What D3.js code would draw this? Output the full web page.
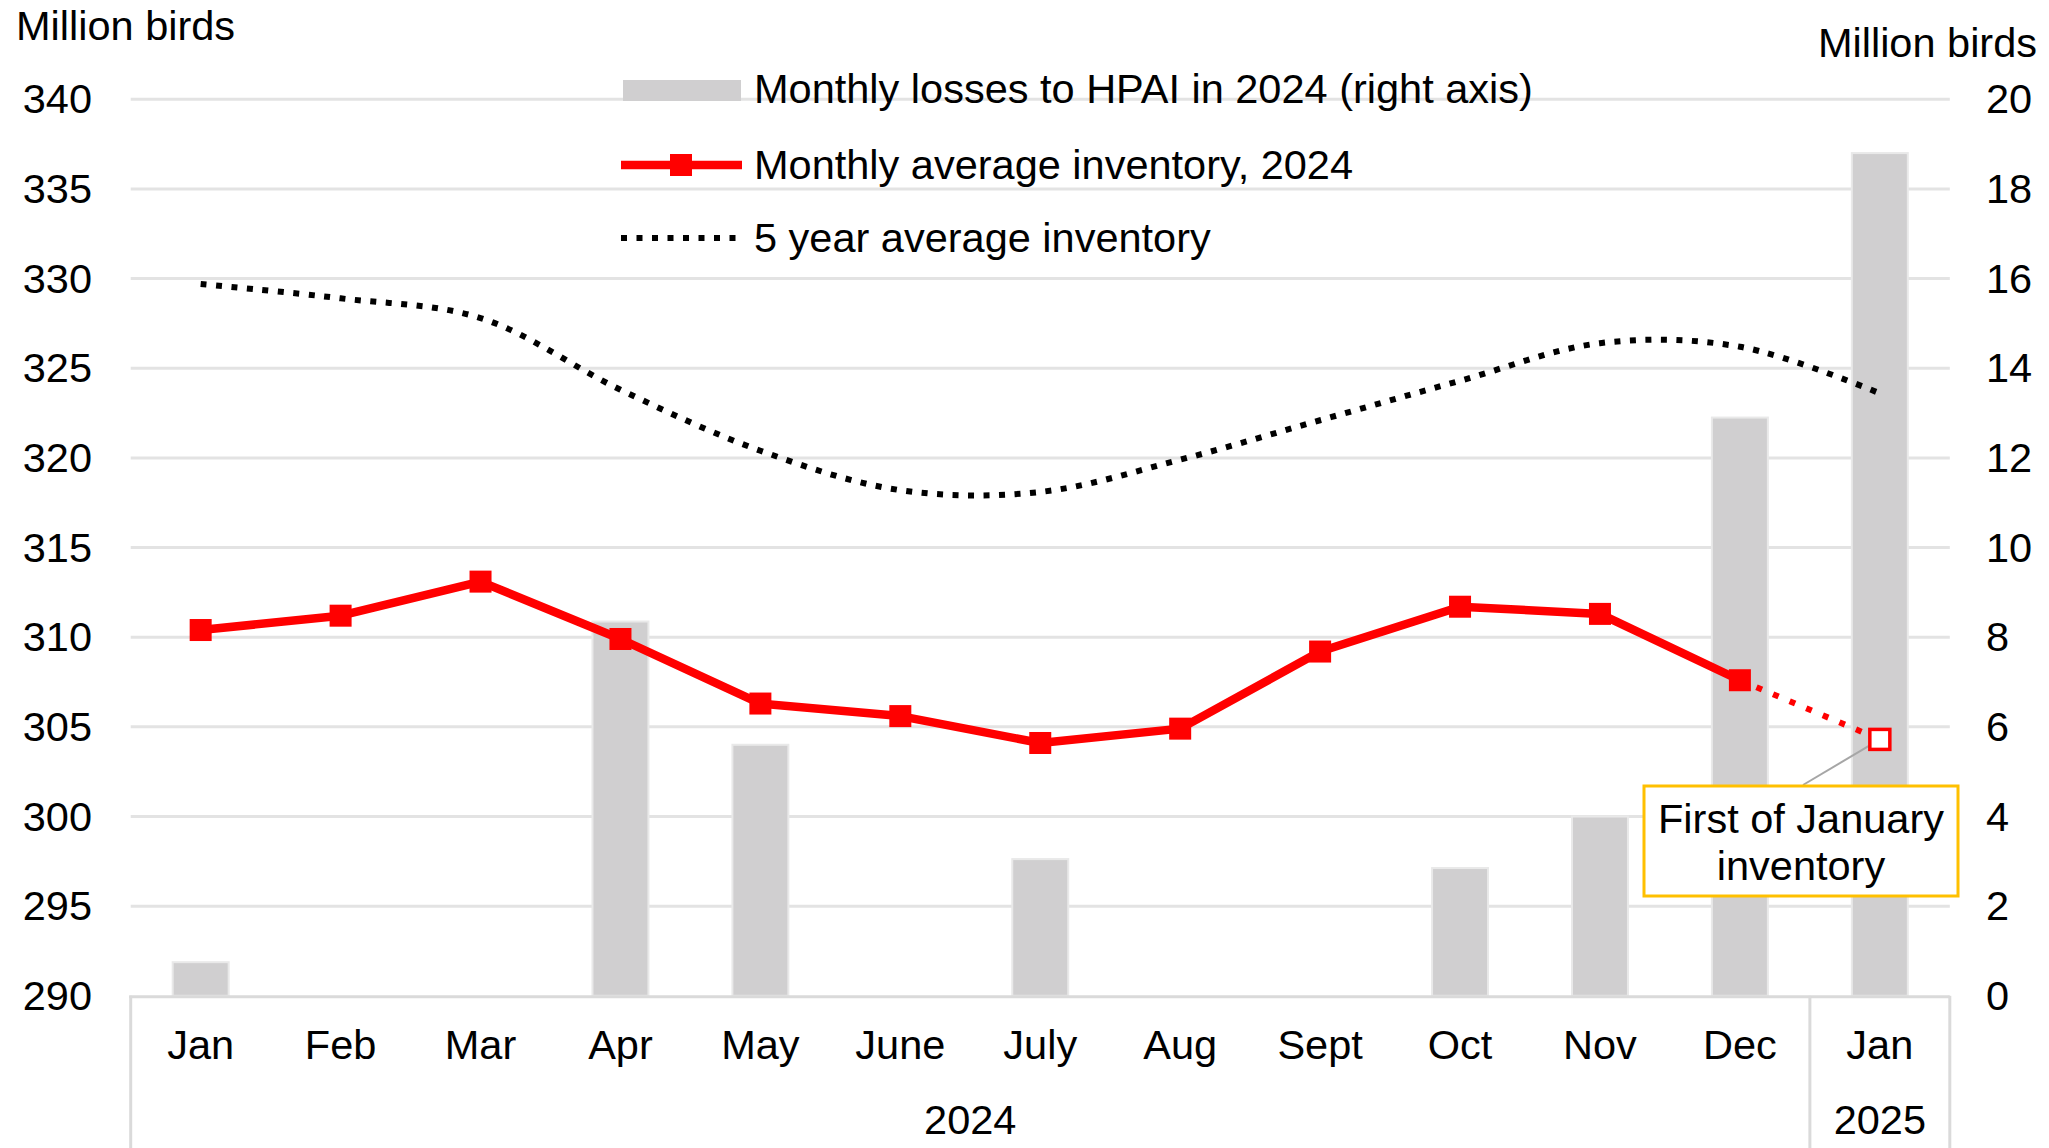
<!DOCTYPE html>
<html><head><meta charset="utf-8">
<script src="https://cdn.jsdelivr.net/npm/d3@7"></script>
<style>
html,body{margin:0;padding:0;background:#fff;}
svg text{font-family:"Liberation Sans",Arial,sans-serif;fill:#000;}
</style></head>
<body><svg id="c" width="2049" height="1148"></svg>
<script>
const months = ["Jan","Feb","Mar","Apr","May","June","July","Aug","Sept","Oct","Nov","Dec","Jan"];
const years = [{label:"2024", from:0, to:11},{label:"2025", from:12, to:12}];
const losses = [0.75,0,0,8.35,5.6,0,3.05,0,0,2.85,4.0,12.9,18.8];
const inventory2024 = [310.4,311.2,313.1,309.9,306.3,305.6,304.1,304.9,309.2,311.7,311.3,307.6];
const janFirst2025 = 304.3;
const fiveYearAvg = [329.7,328.9,327.8,323.8,320.4,318.2,318.1,319.9,322.1,324.3,326.4,326.2,323.6];
const leftTicks = [290,295,300,305,310,315,320,325,330,335,340];
const rightTicks = [0,2,4,6,8,10,12,14,16,18,20];
const legendLabels = ["Monthly losses to HPAI in 2024 (right axis)","Monthly average inventory, 2024","5 year average inventory"];
const annotationLines = ["First of January","inventory"];
const axisTitle = "Million birds";

const svg = d3.select("#c");
const X0 = 130.7, X1 = 1949.8, YT = 99.3, YB = 995.8;
const x = d3.scaleBand().domain(d3.range(months.length)).range([X0, X1]).paddingInner(0).paddingOuter(0);
const yL = d3.scaleLinear().domain([290,340]).range([YB, YT]);
const yR = d3.scaleLinear().domain([0,20]).range([YB, YT]);
const cx = i => x(i) + x.bandwidth()/2;
const FS = 41.5;

// gridlines
svg.append("g").selectAll("line").data(leftTicks.slice(1)).join("line")
  .attr("x1", X0).attr("x2", X1).attr("y1", d=>yL(d)).attr("y2", d=>yL(d))
  .attr("stroke", "#e3e3e3").attr("stroke-width", 3);

// bars
const bw = x.bandwidth()*0.4;
svg.append("g").selectAll("rect").data(losses.map((v,i)=>({v,i})).filter(d=>d.v>0)).join("rect")
  .attr("x", d=>cx(d.i) - bw/2)
  .attr("y", d=>yR(d.v)).attr("width", bw).attr("height", d=>YB - yR(d.v))
  .attr("fill", "#d0cfd0").attr("stroke","#e9e9e9").attr("stroke-width",2);

// category axis lines
const ax = svg.append("g").attr("stroke","#dadada").attr("stroke-width",3);
ax.append("line").attr("x1",X0-1.5).attr("x2",X1).attr("y1",YB+1).attr("y2",YB+1);
ax.append("line").attr("x1",X0).attr("x2",X0).attr("y1",YB).attr("y2",1148);
ax.append("line").attr("x1",x(12)).attr("x2",x(12)).attr("y1",YB).attr("y2",1148);
ax.append("line").attr("x1",X1).attr("x2",X1).attr("y1",YB).attr("y2",1148);

// month labels
svg.append("g").selectAll("text").data(months).join("text")
  .attr("x",(d,i)=>cx(i)).attr("y",1059).attr("text-anchor","middle").attr("font-size",FS).text(d=>d);
svg.append("g").selectAll("text").data(years).join("text")
  .attr("x",d=>(x(d.from)+x(d.to)+x.bandwidth())/2).attr("y",1134).attr("text-anchor","middle").attr("font-size",FS).text(d=>d.label);

// left ticks
svg.append("g").selectAll("text").data(leftTicks).join("text")
  .attr("x",92).attr("y",d=>yL(d)+14).attr("text-anchor","end").attr("font-size",FS).text(d=>d);
// right ticks
svg.append("g").selectAll("text").data(rightTicks).join("text")
  .attr("x",1986).attr("y",d=>yR(d)+14).attr("text-anchor","start").attr("font-size",FS).text(d=>d);

svg.append("text").attr("x",16).attr("y",40).attr("font-size",FS).text(axisTitle);
svg.append("text").attr("x",2037).attr("y",57).attr("text-anchor","end").attr("font-size",FS).text(axisTitle);

// five-year average dotted smooth line
svg.append("path").datum(fiveYearAvg)
  .attr("d", d3.line().x((d,i)=>cx(i)).y(d=>yL(d)).curve(d3.curveCatmullRom.alpha(0.5)))
  .attr("fill","none").attr("stroke","#000").attr("stroke-width",6).attr("stroke-dasharray","6 9.5");

// red dotted extension Dec -> Jan 2025
svg.append("path").datum([[11, inventory2024[11]],[12, janFirst2025]])
  .attr("d", d3.line().x(d=>cx(d[0])).y(d=>yL(d[1])))
  .attr("fill","none").attr("stroke","#ff0000").attr("stroke-width",6).attr("stroke-dasharray","6 12");

// red solid line
svg.append("path").datum(inventory2024)
  .attr("d", d3.line().x((d,i)=>cx(i)).y(d=>yL(d)))
  .attr("fill","none").attr("stroke","#ff0000").attr("stroke-width",8.5).attr("stroke-linejoin","round");
const MS = 22;
svg.append("g").selectAll("rect").data(inventory2024).join("rect")
  .attr("x",(d,i)=>cx(i)-MS/2).attr("y",d=>yL(d)-MS/2).attr("width",MS).attr("height",MS).attr("fill","#ff0000");

// leader line + hollow marker
const hx = cx(12), hy = yL(janFirst2025);
svg.append("line").attr("x1",1803).attr("y1",785).attr("x2",hx).attr("y2",hy)
  .attr("stroke","#a6a6a6").attr("stroke-width",2);
svg.append("rect").attr("x",hx-10).attr("y",hy-10).attr("width",20).attr("height",20)
  .attr("fill","#fff").attr("stroke","#ff0000").attr("stroke-width",3.5);

// annotation box
svg.append("rect").attr("x",1644).attr("y",786).attr("width",314).attr("height",110)
  .attr("fill","#fff").attr("stroke","#ffc000").attr("stroke-width",3);
svg.append("g").selectAll("text").data(annotationLines).join("text")
  .attr("x",1801).attr("y",(d,i)=>833+i*47).attr("text-anchor","middle").attr("font-size",FS).text(d=>d);

// legend
const lg = svg.append("g");
lg.append("rect").attr("x",623).attr("y",80).attr("width",118).attr("height",21).attr("fill","#d0cfd0");
lg.append("line").attr("x1",621).attr("x2",742).attr("y1",165).attr("y2",165).attr("stroke","#ff0000").attr("stroke-width",8.5);
lg.append("rect").attr("x",681-MS/2).attr("y",165-MS/2).attr("width",MS).attr("height",MS).attr("fill","#ff0000");
lg.append("line").attr("x1",621).attr("x2",740).attr("y1",238).attr("y2",238).attr("stroke","#000").attr("stroke-width",6).attr("stroke-dasharray","6 9.5");
lg.selectAll("text").data(legendLabels).join("text")
  .attr("x",754).attr("y",(d,i)=>[103,179,252][i]).attr("font-size",FS).text(d=>d);
</script></body></html>
